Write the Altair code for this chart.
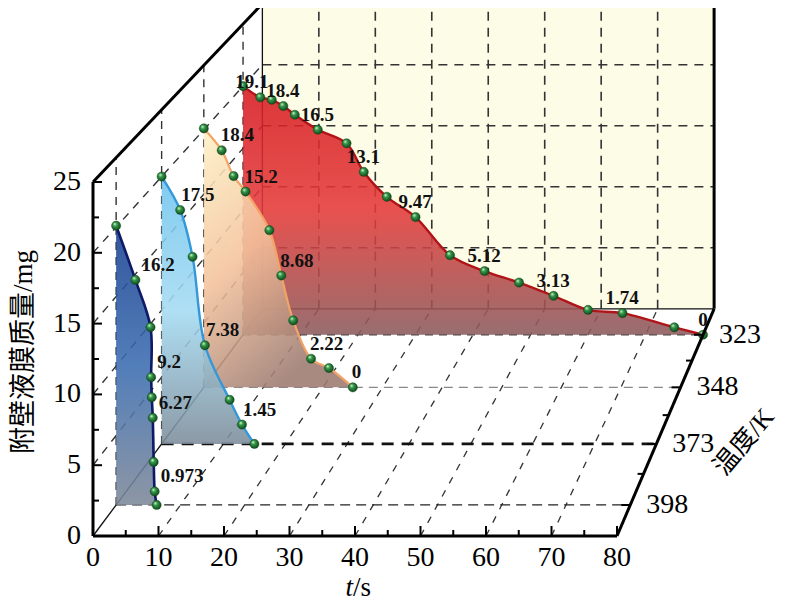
import altair as alt
import pandas as pd

# ---------------- data ----------------
temps = [323, 348, 373, 398]
t_323 = [0, 3, 5, 7, 9, 13, 18, 21, 25, 30, 36, 42, 48, 54, 60, 66, 75, 80]
m_323 = [20.0, 19.1, 18.9, 18.4, 17.7, 16.5, 15.4, 13.1, 11.1, 9.47, 6.4, 5.12, 4.2, 3.13, 2.0, 1.74, 0.6, 0]
t_348 = [0, 3, 5, 7, 11, 13, 15, 18, 21, 25]
m_348 = [20.1, 18.4, 16.4, 15.2, 12.2, 8.68, 5.2, 2.22, 1.5, 0]
t_373 = [0, 3, 5, 7, 11, 13, 15]
m_373 = [20.0, 17.5, 14.0, 7.38, 3.3, 1.45, 0]
t_398 = [0, 3, 5.35, 5.45, 5.55, 5.7, 5.85, 6.0, 6.3]
m_398 = [20.1, 16.2, 12.8, 9.2, 7.75, 6.27, 3.1, 0.973, 0]

t_ticks = [0, 10, 20, 30, 40, 50, 60, 70, 80]
m_ticks = [0, 5, 10, 15, 20, 25]
T_ticks = [323, 348, 373, 398]

x_title_italic = "t"
x_title_rest = "/s"
y_title = "附壁液膜质量/mg"
z_title = "温度/K"

# ---------------- projection (layout) ----------------
T_FRONT, T_BACK = 410, 310
T_MAX, M_MAX = 80, 25
VPX, VPY = 1321.0, -1111.0
X0, SX = 93.0, 6.55
Y0, SY = 536.0, 14.16
DEPTH = 0.16


def kf(T):
    return 1.0 / (1.0 + DEPTH * (T_FRONT - T) / (T_FRONT - T_BACK))


def proj(t, m, T):
    k = kf(T)
    return VPX + (X0 + SX * t - VPX) * k, VPY + (Y0 - SY * m - VPY) * k


XS = alt.Scale(domain=[8, 783], nice=False, zero=False)
YS = alt.Scale(domain=[8, 603], nice=False, zero=False, reverse=True)


def X(f):
    return alt.X(f, type="quantitative", scale=XS, axis=None)


def Y(f):
    return alt.Y(f, type="quantitative", scale=YS, axis=None)


def seg_df(segs):
    rows = []
    for (a, b) in segs:
        x1, y1 = proj(*a)
        x2, y2 = proj(*b)
        rows.append({"x": x1, "y": y1, "x2": x2, "y2": y2})
    return pd.DataFrame(rows)


def rules(segs, **kw):
    return alt.Chart(seg_df(segs)).mark_rule(**kw).encode(
        x=X("x"), y=Y("y"), x2="x2:Q", y2="y2:Q")


layers = []

# back wall
bx1, by1 = proj(0, M_MAX, T_BACK)
bx2, by2 = proj(T_MAX, 0, T_BACK)
wall = pd.DataFrame([{"x": bx1, "y": by1, "x2": bx2, "y2": by2}])
layers.append(alt.Chart(wall).mark_rect(color="#fdfce6").encode(
    x=X("x"), y=Y("y"), x2="x2:Q", y2="y2:Q"))

# back wall grid
bg = [((t, 0, T_BACK), (t, M_MAX, T_BACK)) for t in range(10, 80, 10)]
bg += [((0, m, T_BACK), (T_MAX, m, T_BACK)) for m in range(5, 25, 5)]
layers.append(rules(bg, color="#333333", strokeWidth=1.6, strokeDash=[9, 7]))

# left wall dashed lines
lw = [((0, 0, T), (0, M_MAX, T)) for T in temps]
lw += [((0, m, T_FRONT), (0, m, T_BACK)) for m in range(5, 25, 5)]
layers.append(rules(lw, color="#333333", strokeWidth=1.4, strokeDash=[8, 7]))

# floor lines
layers.append(rules([((t, 0, T_FRONT), (t, 0, T_BACK)) for t in range(10, 80, 10)],
                    color="#333333", strokeWidth=1.3, strokeDash=[7, 8]))
layers.append(rules([((0, 0, 398), (T_MAX, 0, 398))], color="#222222", strokeWidth=1.3, strokeDash=[10, 6]))
layers.append(rules([((0, 0, 348), (T_MAX, 0, 348))], color="#888888", strokeWidth=1.3, strokeDash=[9, 6]))
layers.append(rules([((0, 0, 323), (T_MAX, 0, 323))], color="#444444", strokeWidth=1.3, strokeDash=[8, 6]))
layers.append(rules([((0, 0, 373), (T_MAX, 0, 373))], color="#111111", strokeWidth=2.8, strokeDash=[12, 8]))

# thin solid edges
thin = [((0, 0, T_FRONT), (0, 0, T_BACK)),
        ((0, 0, T_BACK), (0, M_MAX, T_BACK)),
        ((0, 0, T_BACK), (T_MAX, 0, T_BACK))]
layers.append(rules(thin, color="#111111", strokeWidth=1.3))

# ---------------- series ----------------
point_fill = alt.RadialGradient(
    gradient="radial",
    stops=[alt.GradientStop(offset=0, color="#e4ffdc"),
           alt.GradientStop(offset=0.35, color="#35994a"),
           alt.GradientStop(offset=1, color="#0a4217")],
    x1=0.35, y1=0.3, r1=0, x2=0.45, y2=0.45, r2=0.6)

LABEL_FONT = dict(font="Liberation Serif", fontSize=19, fontWeight="bold", color="#111111",
                  baseline="middle", dy=-15)

series = [
    (323, t_323, m_323, ["#d61a20", "#e43a3a", "#8a5a5c"], "#b01418", 2.4, -17, (0.5, 0, 0.5, 1)),
    (348, t_348, m_348, ["#fdf2c6", "#f4c29c", "#9c7a70"], "#f2a466", 2.2, -1, (0, 0, 0.5, 1)),
    (373, t_373, m_373, ["#70c4ee", "#a4dbf2", "#7c8c9a"], "#3398da", 2.4, 1, (0.5, 0, 0.5, 1)),
    (398, t_398, m_398, ["#173f8f", "#3a6cb0", "#7d8898"], "#0e1a66", 2.6, 6, (0.5, 0, 0.5, 1)),
]

for T, ts, ms, stops, lc, lw_, ddx, gxy in series:
    rows = []
    base = proj(0, 0, T)[1]
    for i, (t, m) in enumerate(zip(ts, ms)):
        px, py = proj(t, m, T)
        rows.append({"i": i, "t": t, "m": m, "px": px, "py": py, "base": base,
                     "lab": (f"{m:g}" if i % 2 == 1 else "")})
    df = pd.DataFrame(rows)
    grad = alt.LinearGradient(
        gradient="linear",
        stops=[alt.GradientStop(offset=0, color=stops[0]),
               alt.GradientStop(offset=0.5, color=stops[1]),
               alt.GradientStop(offset=1, color=stops[2])],
        x1=gxy[0], y1=gxy[1], x2=gxy[2], y2=gxy[3])
    base_c = alt.Chart(df)
    layers.append(base_c.mark_area(interpolate="catmull-rom", color=grad, opacity=0.88).encode(
        x=X("px"), y=Y("py"), y2="base:Q"))
    layers.append(base_c.mark_line(interpolate="catmull-rom", color=lc, strokeWidth=lw_).encode(
        x=X("px"), y=Y("py"), order="t:Q"))
    layers.append(base_c.mark_circle(size=85, color=point_fill, opacity=1,
                                     stroke="#0a3a12", strokeWidth=0.4).encode(
        x=X("px"), y=Y("py")))
    if T == 323:
        # first label sits a little further left so that it clears its neighbour
        layers.append(base_c.transform_filter("datum.lab != '' && datum.i == 1").mark_text(
            align="left", dx=ddx - 8, **LABEL_FONT).encode(x=X("px"), y=Y("py"), text="lab:N"))
        layers.append(base_c.transform_filter("datum.lab != '' && datum.i > 1 && datum.i < 17").mark_text(
            align="left", dx=ddx, **LABEL_FONT).encode(x=X("px"), y=Y("py"), text="lab:N"))
        layers.append(base_c.transform_filter("datum.lab != '' && datum.i == 17").mark_text(
            align="center", dx=0, **LABEL_FONT).encode(x=X("px"), y=Y("py"), text="lab:N"))
    else:
        layers.append(base_c.transform_filter("datum.lab != ''").mark_text(
            align="left", dx=ddx, **LABEL_FONT).encode(x=X("px"), y=Y("py"), text="lab:N"))

# ---------------- axes ----------------
thick = [((0, 0, T_FRONT), (T_MAX, 0, T_FRONT)),
         ((0, 0, T_FRONT), (0, M_MAX, T_FRONT)),
         ((0, M_MAX, T_FRONT), (0, M_MAX, T_BACK)),
         ((0, M_MAX, T_BACK), (T_MAX, M_MAX, T_BACK)),
         ((T_MAX, M_MAX, T_BACK), (T_MAX, 0, T_BACK)),
         ((T_MAX, 0, T_FRONT), (T_MAX, 0, T_BACK))]
layers.append(rules(thick, color="#000000", strokeWidth=3))

tick_rows = []
for i in range(0, 17):
    t = i * 5
    x, y = proj(t, 0, T_FRONT)
    L = 10 if i % 2 == 0 else 6
    tick_rows.append({"x": x, "y": y, "x2": x, "y2": y - L})
for i in range(0, 11):
    m = i * 2.5
    x, y = proj(0, m, T_FRONT)
    L = 9 if i % 2 == 0 else 6
    tick_rows.append({"x": x, "y": y, "x2": x + L, "y2": y})
for i in range(0, 7):
    T = 323 + i * 12.5
    x, y = proj(T_MAX, 0, T)
    L = 9 if i % 2 == 0 else 6
    tick_rows.append({"x": x, "y": y, "x2": x - L, "y2": y})
layers.append(alt.Chart(pd.DataFrame(tick_rows)).mark_rule(color="#000000", strokeWidth=2).encode(
    x=X("x"), y=Y("y"), x2="x2:Q", y2="y2:Q"))

FONT = "Liberation Serif"
xl = pd.DataFrame([{"px": proj(t, 0, T_FRONT)[0], "py": proj(t, 0, T_FRONT)[1], "lab": str(t)} for t in t_ticks])
layers.append(alt.Chart(xl).mark_text(font=FONT, fontSize=28, align="center", baseline="middle", dy=22).encode(
    x=X("px"), y=Y("py"), text="lab:N"))
yl = pd.DataFrame([{"px": proj(0, m, T_FRONT)[0], "py": proj(0, m, T_FRONT)[1], "lab": str(m)} for m in m_ticks])
layers.append(alt.Chart(yl).mark_text(font=FONT, fontSize=28, align="right", baseline="middle", dx=-12).encode(
    x=X("px"), y=Y("py"), text="lab:N"))
zl = pd.DataFrame([{"px": proj(T_MAX, 0, T)[0], "py": proj(T_MAX, 0, T)[1], "lab": str(T)} for T in T_ticks])
layers.append(alt.Chart(zl).mark_text(font=FONT, fontSize=28, align="left", baseline="middle", dx=16).encode(
    x=X("px"), y=Y("py"), text="lab:N"))

one = pd.DataFrame({"a": [0]})
layers.append(alt.Chart(one).mark_text(font=FONT, fontSize=27, fontStyle="italic", align="right",
                                        baseline="bottom", text=x_title_italic).encode(
    x=alt.value(345), y=alt.value(594)))
layers.append(alt.Chart(one).mark_text(font=FONT, fontSize=27, align="left",
                                        baseline="bottom", text=x_title_rest).encode(
    x=alt.value(345), y=alt.value(594)))
layers.append(alt.Chart(one).mark_text(font="Liberation Serif, Noto Sans CJK SC", fontSize=27, angle=270,
                                        align="center", baseline="middle", text=y_title).encode(
    x=alt.value(16), y=alt.value(344)))
layers.append(alt.Chart(one).mark_text(font="Liberation Serif, Noto Sans CJK SC", fontSize=26, angle=310,
                                        align="center", baseline="middle", text=z_title).encode(
    x=alt.value(736), y=alt.value(434)))

chart = alt.layer(*layers).properties(
    width=775, height=595, padding=0,
    autosize=alt.AutoSizeParams(type="none"),
).configure_view(stroke=None)

chart.save("out.html", embed_options={"renderer": "svg", "actions": False})
